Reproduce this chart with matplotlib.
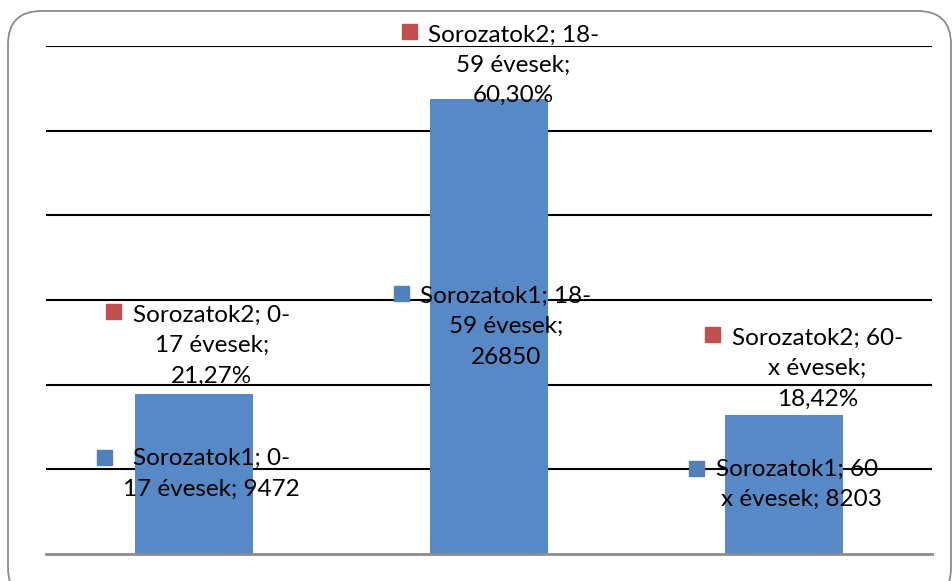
import matplotlib.pyplot as plt
from matplotlib.patches import FancyBboxPatch
from matplotlib.transforms import offset_copy

# adatok
categories = ['0-17 évesek', '18-59 évesek', '60-x évesek']
counts = [9472, 26850, 8203]
shares = [21.27, 60.30, 18.42]
series_names = ['Sorozatok1', 'Sorozatok2']

plt.rcParams['font.family'] = ['Lato', 'DejaVu Sans']

fig = plt.figure(figsize=(9.53, 5.81), dpi=100)
ax = fig.add_axes([46 / 953, 27 / 581, 886 / 953, 508 / 581])

# keret lekerekitett sarkokkal
frame = FancyBboxPatch((8 / 953, -20 / 581), 943 / 953, 590 / 581,
                       boxstyle='round,pad=0,rounding_size=0.035',
                       transform=fig.transFigure, fc='none', ec='#8c8c8c',
                       lw=1.3, clip_on=False, mutation_aspect=953 / 581)
fig.patches.append(frame)

x = list(range(len(categories)))
ax.bar(x, counts, width=0.4, color='#5689C6', zorder=1)

ax.set_xlim(-0.5, 2.5)
ax.set_ylim(0, 30000)
ax.set_yticks(range(5000, 30001, 5000))
ax.yaxis.grid(True, color='black', lw=1.5, zorder=0)
ax.set_axisbelow(True)
ax.tick_params(left=False, bottom=False, labelleft=False, labelbottom=False)
for s in ['top', 'right', 'left']:
    ax.spines[s].set_visible(False)
ax.spines['bottom'].set_color('#8c8c8c')
ax.spines['bottom'].set_linewidth(2)


def fmt_pct(v):
    return ('%.2f' % v).replace('.', ',') + '%'


def split_cat(c):
    a, b = c.split('-', 1)
    return a + '-', b


# cimkek szovege
s1_sep = ['; ', ';\n', '; ']
s1_labels = []
s2_labels = []
for i, c in enumerate(categories):
    a, b = split_cat(c)
    s1_labels.append('%s; %s\n%s%s%d' % (series_names[0], a, b, s1_sep[i], counts[i]))
    s2_labels.append('%s; %s\n%s;\n%s' % (series_names[1], a, b, fmt_pct(shares[i])))

fs = 17.5
lsp = 1.55


def put_label(xi, yv, text, tdx, tdy, mdx, mdy, color):
    tr = offset_copy(ax.transData, fig=fig, x=tdx, y=tdy, units='dots')
    ax.text(xi, yv, text, transform=tr, ha='center', va='center',
            multialignment='center', fontsize=fs, linespacing=lsp,
            color='black', zorder=5, clip_on=False)
    mtr = offset_copy(ax.transData, fig=fig, x=mdx, y=mdy, units='dots')
    ax.plot([xi], [yv], marker='s', ms=10.8, color=color, mec=color,
            transform=mtr, zorder=5, clip_on=False)


# Sorozatok1 cimkek (oszlop kozepen)
s1_text_dx = [18, 17, 17]
s1_mark = [(-89.5, 17), (-88, 33.5), (-88.5, 17)]
for i in x:
    put_label(i, counts[i] / 2, s1_labels[i], s1_text_dx[i], 0,
              s1_mark[i][0], s1_mark[i][1], '#4F81BD')

# Sorozatok2 cimkek (oszlop felett)
s2_text = [(18, 48), (24.5, 34), (33, 46.5)]
s2_mark = [(-80.5, 83), (-80, 68.5), (-72.5, 81)]
for i in x:
    put_label(i, counts[i], s2_labels[i], s2_text[i][0], s2_text[i][1],
              s2_mark[i][0], s2_mark[i][1], '#C0504D')

fig.savefig('out.png', dpi=100)
